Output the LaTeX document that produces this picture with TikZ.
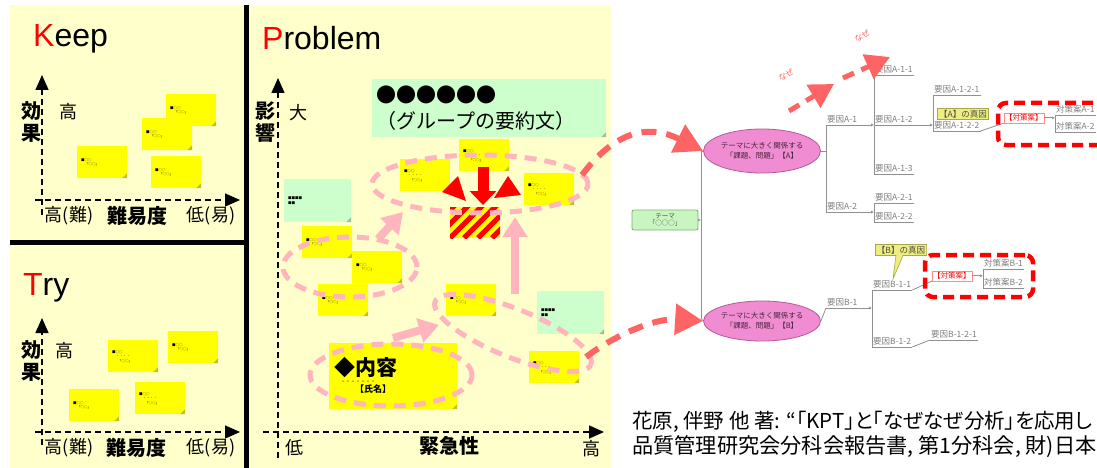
\documentclass[tikz,border=0pt]{standalone}
\usepackage{fontspec}
\setmainfont{Noto Sans CJK JP}
\newfontfamily\latf{Liberation Sans}
\newfontfamily\cjkp[RawFeature=+palt]{Noto Sans CJK JP}
\usetikzlibrary{arrows.meta,shapes.geometric,shapes.callouts,calc}
\definecolor{bgy}{HTML}{FFFFCC}
\definecolor{sty}{HTML}{FFFF00}
\definecolor{foldc}{HTML}{BDBD3C}
\definecolor{lgreen}{HTML}{CCFFCC}
\definecolor{gfold}{HTML}{9DBFA0}
\definecolor{pinkd}{HTML}{FFB4BE}
\definecolor{salmon}{HTML}{FF6464}
\definecolor{treeg}{HTML}{909090}
\definecolor{orch}{HTML}{F08CD2}
\definecolor{orchd}{HTML}{B85A9A}
\definecolor{thg}{HTML}{C8F5C0}
\definecolor{thgd}{HTML}{78B468}
\definecolor{hly}{HTML}{EEEE80}
\definecolor{hlyd}{HTML}{A8A848}
\newcommand\notetxt{■○○\\\hspace*{4pt}「○○」}
\newcommand\notetxtb{■○○\\\hspace*{4pt}・・・・\\\hspace*{6pt}「○○」}
\tikzset{
  notebase/.style 2 args={fill=#1, anchor=north west, inner xsep=4pt, inner ysep=2pt, align=left,
    font=\fontsize{3.5}{4.5}\selectfont,
    path picture={\fill[#2] (path picture bounding box.south east) -- ++(-5,0) -- ++(5,-5) -- cycle;}},
  sticky/.style={notebase={sty}{foldc}, minimum width=50pt, minimum height=32pt, text width=42pt},
  gnote/.style={notebase={lgreen}{gfold}, minimum width=67pt, minimum height=43pt, text width=59pt},
  axisln/.style={line width=1.6pt, dash pattern=on 6pt off 4pt, -{Triangle[length=15pt,width=13pt]}},
  ttl/.style={font=\latf\fontsize{32}{32}\selectfont, anchor=base west, inner sep=0pt},
  lab/.style={font=\fontsize{18}{18}\selectfont, inner sep=0pt},
  blab/.style={font=\bfseries\fontsize{20}{22}\selectfont, inner sep=0pt, align=center},
  pell/.style={draw=pinkd, line width=5pt, dash pattern=on 12pt off 8pt, ellipse, inner sep=0pt},
  parr/.style={draw=pinkd, line width=8pt, -{Triangle[length=20pt,width=24pt]}},
  sarr/.style={draw=salmon, line width=6pt, dash pattern=on 15pt off 10pt, -{Triangle[length=28pt,width=30pt]}},
  sarrb/.style={draw=salmon, line width=5pt, dash pattern=on 12pt off 8pt, -{Triangle[length=24pt,width=26pt]}},
  rarr/.style={draw=red, line width=11pt, -{Triangle[length=14pt,width=26pt]}},
  stripe/.style={minimum width=50pt, minimum height=31pt, fill=sty, inner sep=0pt,
    path picture={\foreach \k in {-56,-42,...,56}{\draw[red, line width=5pt] ([xshift=\k pt]path picture bounding box.south west) -- ++(50,-50);}}},
  tl/.style={draw=treeg, line width=0.8pt},
  smtip/.style={-{Latex[length=3pt,width=3pt]}},
  leaf/.style={font=\fontsize{8.5}{8.5}\selectfont, text=black!50, inner xsep=1pt, inner ysep=1.5pt, anchor=south west},
  tell/.style={ellipse, fill=orch, draw=orchd, line width=0.8pt, minimum width=117pt, minimum height=44pt, inner sep=0pt, align=center, font=\fontsize{7.5}{10}\selectfont, text=black!60!orchd},
  theme/.style={rounded corners=2pt, fill=thg, draw=thgd, line width=0.8pt, minimum width=66pt, minimum height=20pt, inner sep=0pt, align=center, font=\fontsize{6.5}{7.5}\selectfont, text=black!70},
  taisaku/.style={leaf, font=\fontsize{7.5}{8}\selectfont, text=red, draw=red!45, fill=white},
  hlbox/.style={fill=hly, draw=hlyd, line width=0.6pt, inner sep=1.5pt, font=\fontsize{8.5}{8.5}\selectfont, text=black!70},
  rdash/.style={draw=red, line width=4.5pt, dash pattern=on 11pt off 6pt, rounded corners=8pt, inner sep=0pt},
  nz/.style={text=salmon, font=\fontsize{8}{8}\selectfont, inner sep=0pt, rotate=30},
  cit/.style={anchor=west, inner sep=0pt, font=\cjkp\fontsize{21.2}{21.2}\selectfont},
}
\begin{document}
\begin{tikzpicture}[x=1pt,y=-1pt]
\useasboundingbox (0,0) rectangle (1097,468);
\clip (0,0) rectangle (1097,468);
\fill[white] (0,0) rectangle (1097,468);
\fill[bgy] (10,5) rectangle (611,468);
\fill[black] (244,5) rectangle (249,468);
\fill[black] (10,240) rectangle (249,245);

% ---------- titles
\node[ttl] (tK) at (33,47) {\textcolor{red}{K}eep};
\node[ttl] (tT) at (23,295) {\textcolor{red}{T}ry};
\node[ttl] (tP) at (262,50) {\textcolor{red}{P}roblem};

% ---------- Keep axes
\coordinate (ko) at (42,215); \coordinate (kyt) at (42,75);
\coordinate (kxs) at (35,200); \coordinate (kxt) at (240,200);
\draw[axisln] (ko) -- (kyt);
\draw[axisln] (kxs) -- (kxt);
\node[blab] (kef) at (31,122) {効\\果};
\node[lab] (kh) at (68,112) {高};
\node[lab] (kx1) at (69,216) {高(難)};
\node[blab] (kx2) at (137,216) {難易度};
\node[lab] (kx3) at (211,216) {低(易)};
\node[sticky] (k1) at (166,94) {\notetxt};
\node[sticky] (k2) at (142,118) {\notetxt};
\node[sticky] (k3) at (77,146) {\notetxt};
\node[sticky] (k4) at (151,156) {\notetxt};

% ---------- Try axes
\coordinate (to) at (42,445); \coordinate (tyt) at (42,318);
\coordinate (txs) at (35,432); \coordinate (txt) at (240,432);
\draw[axisln] (to) -- (tyt);
\draw[axisln] (txs) -- (txt);
\node[blab] (tef) at (31,361) {効\\果};
\node[lab] (th1) at (64,351) {高};
\node[lab] (tx1) at (69,448) {高(難)};
\node[blab] (tx2) at (136,448) {難易度};
\node[lab] (tx3) at (211,448) {低(易)};
\node[sticky] (t1) at (108,340) {\notetxtb};
\node[sticky] (t2) at (168,331) {\notetxt};
\node[sticky] (t3) at (69,389) {\notetxt};
\node[sticky] (t4) at (135,382) {\notetxtb};

% ---------- Problem axes
\coordinate (po) at (278,458); \coordinate (pyt) at (278,78);
\coordinate (pxs) at (263,432); \coordinate (pxt) at (604,432);
\draw[axisln] (po) -- (pyt);
\draw[axisln] (pxs) -- (pxt);
\node[blab] (pef) at (265,122) {影\\響};
\node[lab] (pb) at (298,113) {大};
\node[lab] (px1) at (294,448) {低};
\node[blab] (px2) at (449,446) {緊急性};
\node[lab] (px3) at (591,449) {高};

% ---------- Problem notes
\node[notebase={lgreen}{gfold}, minimum width=234pt, minimum height=58pt, text width=226pt,
      font=\fontsize{20}{26}\selectfont] (sum) at (372,79) {●●●●●●\\（グループの要約文）};
\node[gnote] (g1) at (284,179) {■■■■\\■■};
\node[gnote] (g2) at (537,291) {■■■■\\■■};
\node[sticky] (pa) at (459,139) {\notetxtb};
\node[sticky] (pbn) at (400,159) {\notetxtb};
\node[sticky] (pc) at (524,173) {\notetxtb};
\node[sticky] (pd) at (302,226) {\notetxt};
\node[sticky] (pe) at (352,251) {\notetxt};
\node[sticky] (pf) at (318,284) {\notetxt};
\node[sticky] (pg) at (446,284) {\notetxt};
\node[sticky] (ph) at (529,351) {\notetxtb};
\node[notebase={sty}{foldc}, minimum width=128pt, minimum height=66pt, text width=120pt] (pi) at (329,343) {};
\node[font=\bfseries\fontsize{21}{21}\selectfont, inner sep=0pt] (pit) at (366,368) {◆内容};
\node[font=\fontsize{5}{5}\selectfont, inner sep=0pt] (pid) at (358,382) {・・・・・・・};
\node[font=\bfseries\fontsize{9}{9}\selectfont, inner sep=0pt] (pin) at (373,389) {【氏名】};

\node[stripe] (sb) at (475,222.5) {};
\coordinate (ra1) at (483,167); \coordinate (ra2) at (483,205);
\draw[rarr] (ra1) -- (ra2);
\fill[red] (442,192) -- (458,176) -- (466,201) -- cycle;
\fill[red] (508,176) -- (521,195) -- (494,198) -- cycle;

% ---------- pink groupings
\node[pell, minimum width=216pt, minimum height=58pt] (el1) at (480,184) {};
\node[pell, minimum width=134pt, minimum height=60pt] (el2) at (350,267) {};
\node[pell, minimum width=162pt, minimum height=62pt] (el4) at (391,375) {};
\node[pell, minimum width=168pt, minimum height=48pt, rotate=-22] (el3) at (513,333) {};
\coordinate (pa1) at (378,239); \coordinate (pa2) at (403,212);
\coordinate (pb1) at (393,338); \coordinate (pb2) at (439,325);
\coordinate (pc1) at (515,294); \coordinate (pc2) at (515,217);
\draw[parr] (pa1) -- (pa2);
\draw[parr] (pb1) -- (pb2);
\draw[parr] (pc1) -- (pc2);

% ---------- tree
\node[theme] (th) at (665,220) {テーマ\\「○○○」};
\node[tell] (ea) at (762,151) {テーマに大きく関係する\\「課題、問題」【A】};
\node[tell, minimum height=40pt] (eb) at (762,321) {テーマに大きく関係する\\「課題、問題」【B】};
\coordinate (vt) at (701,151);
\coordinate (vb) at (701,318);
\draw[tl] (vt) -- (vb);
\draw[tl] (vt) -- (ea.west);
\draw[tl] (vb) -- (eb.west);
\draw[tl,smtip] (th.east) -- (th.east -| vt);

\node[leaf] (a1) at (826,125) {要因A-1};
\node[leaf] (a2) at (826,212) {要因A-2};
\node[leaf] (a11) at (874,75) {要因A-1-1};
\node[leaf] (a12) at (874,125) {要因A-1-2};
\node[leaf] (a13) at (874,174) {要因A-1-3};
\node[leaf] (a21) at (874,203) {要因A-2-1};
\node[leaf] (a22) at (874,222) {要因A-2-2};
\node[leaf] (a121) at (933,95) {要因A-1-2-1};
\node[leaf] (a122) at (933,131) {要因A-1-2-2};
\node[hlbox] (ra) at (963,114) {【A】の真因};
\node[taisaku] (ta) at (1004,123) {【対策案】};
\node[leaf] (tA1) at (1055,115) {対策案A-1};
\node[leaf] (tA2) at (1055,132) {対策案A-2};
\foreach \n in {a1,a2,a11,a12,a13,a21,a22,a121,a122,tA1,tA2}
  \draw[tl] (\n.south west) -- (\n.south east);
\draw[tl] (ea.east) -- (ea.east -| a1.south west);
\draw[tl] (a1.south west) -- (a2.south west);
\draw[tl] (a11.south west) -- (a13.south west);
\draw[tl] (a21.south west) -- (a22.south west);
\draw[tl] (a121.south west) -- (a122.south west);
\draw[tl] (tA1.south west) -- (tA2.south west);
\draw[tl,smtip] (a1.south east) -- (a12.south west);
\draw[tl,smtip] (a2.south east) -- (a2.south east -| a21.south west);
\draw[tl,smtip] (a12.south east) -- (a12.south east -| a121.south west);
\draw[tl] (a122.south east) -- (ta.south west);
\draw[tl,smtip] (ta.east) -- (ta.east -| tA1.south west);

\node[leaf] (b1) at (826,308) {要因B-1};
\node[leaf] (b11) at (872,290) {要因B-1-1};
\node[leaf] (b12) at (872,347) {要因B-1-2};
\node[leaf] (b121) at (930,340) {要因B-1-2-1};
\node[taisaku] (tb) at (932,281) {【対策案】};
\node[leaf] (tB1) at (983,269) {対策案B-1};
\node[leaf] (tB2) at (983,288) {対策案B-2};
\foreach \n in {b1,b11,b12,b121,tB1,tB2}
  \draw[tl] (\n.south west) -- (\n.south east);
\draw[tl] (eb.east) -- (b1.south west);
\draw[tl] (b11.south west) -- (b12.south west);
\draw[tl] (tB1.south west) -- (tB2.south west);
\draw[tl,smtip] (b1.south east) -- (b1.south east -| b11.south west);
\draw[tl] (b11.south east) -- (tb.south west);
\draw[tl] (b12.south east) -- (b121.south west);
\draw[tl,smtip] (tb.east) -- (tb.east -| tB1.south west);
\node[hlbox, rectangle callout, callout absolute pointer={(893,279)}] (rb) at (901,250) {【B】の真因};

\node[rdash, minimum width=120pt, minimum height=42pt] (bxa) at (1058,124) {};
\node[rdash, minimum width=108pt, minimum height=42pt] (bxb) at (979,276) {};

% ---------- salmon arrows
\coordinate (s1s) at (582,175);
\coordinate (s2s) at (586,357);
\draw[sarr] (s1s) .. controls (612,135) and (645,122) .. (ea.west);
\draw[sarr] (s2s) .. controls (615,335) and (655,318) .. (eb.west);
\coordinate (n1s) at (789,111); \coordinate (n1e) at (834,84);
\coordinate (n2s) at (843,78); \coordinate (n2e) at (890,57);
\draw[sarrb] (n1s) -- (n1e);
\draw[sarrb] (n2s) -- (n2e);
\node[nz] (nz1) at (786,75) {なぜ};
\node[nz] (nz2) at (862,36) {なぜ};

% ---------- citation
\node[cit, font=\cjkp\fontsize{20.5}{20.5}\selectfont] (c1) at (632,422) {花原, 伴野 他 著: “「KPT」と「なぜなぜ分析」を応用し};
\node[cit] (c2) at (632,447) {品質管理研究会分科会報告書, 第1分科会, 財)日本};
\end{tikzpicture}
\end{document}
